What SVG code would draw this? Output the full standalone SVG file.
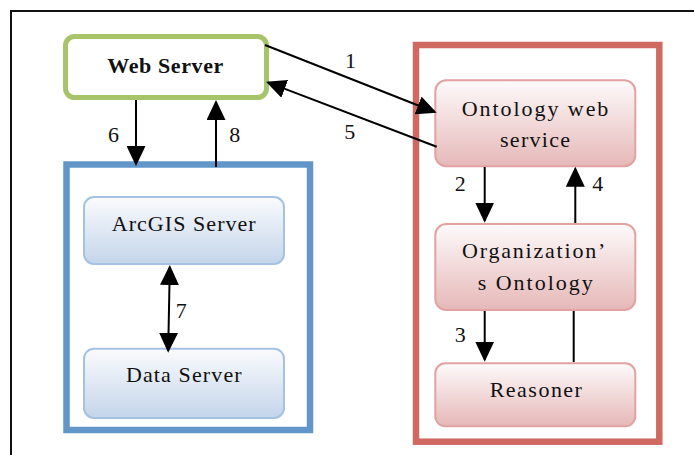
<svg xmlns="http://www.w3.org/2000/svg" width="694" height="455" viewBox="0 0 694 455">
  <defs>
    <linearGradient id="gBlue" x1="0" y1="0" x2="0" y2="1">
      <stop offset="0" stop-color="#FAFBFD"/>
      <stop offset="1" stop-color="#C4D5EA"/>
    </linearGradient>
    <linearGradient id="gPink" x1="0" y1="0" x2="0" y2="1">
      <stop offset="0" stop-color="#FDFAFA"/>
      <stop offset="1" stop-color="#E6B8B8"/>
    </linearGradient>
    <marker id="arrow" viewBox="0 0 20 19" markerWidth="20" markerHeight="19" refX="18" refY="9.5" orient="auto-start-reverse" markerUnits="userSpaceOnUse">
      <path d="M0,0 L20,9.5 L0,19 z" fill="#000"/>
    </marker>
  </defs>
  <style>
    .blue { fill: url(#gBlue); stroke: #A6C2E2; stroke-width: 2; }
    .pink { fill: url(#gPink); stroke: #E2A2A2; stroke-width: 2; }
    .conn { stroke: #000; stroke-width: 2; fill: none; }
  </style>

  <rect width="694" height="455" fill="#fff"/>
  <!-- page frame -->
  <path d="M11,455 V11 H694" fill="none" stroke="#111" stroke-width="2"/>

  <!-- containers -->
  <g id="gis-container">
    <rect x="66.5" y="164.5" width="243.5" height="265.5" fill="none" stroke="#6396C8" stroke-width="6.5"/>
  </g>
  <g id="ontology-container">
    <rect x="416" y="45" width="243.3" height="396.7" fill="none" stroke="#CF6961" stroke-width="6.5"/>
  </g>

  <!-- nodes -->
  <g id="web-server">
    <rect x="65.5" y="36.5" width="201" height="61" rx="9" fill="#fff" stroke="#A8C46A" stroke-width="5"/>
    <text x="165.3" y="73.3" font-family="Liberation Serif" font-size="22" fill="#111" text-anchor="middle" font-weight="bold" textLength="116" lengthAdjust="spacing">Web Server</text>
  </g>
  <g id="arcgis-server">
    <rect x="84" y="197" width="200" height="67" rx="10" class="blue"/>
    <text x="183.7" y="231" font-family="Liberation Serif" font-size="22" fill="#111" text-anchor="middle" textLength="144" lengthAdjust="spacing">ArcGIS Server</text>
  </g>
  <g id="data-server">
    <rect x="84" y="348.7" width="200" height="69.3" rx="10" class="blue"/>
    <text x="183.8" y="382" font-family="Liberation Serif" font-size="22" fill="#111" text-anchor="middle" textLength="115.7" lengthAdjust="spacing">Data Server</text>
  </g>
  <g id="ontology-web-service">
    <rect x="435.3" y="80.3" width="200" height="86" rx="11" class="pink"/>
    <text x="535" y="115.7" font-family="Liberation Serif" font-size="22" fill="#111" text-anchor="middle" textLength="146.7" lengthAdjust="spacing">Ontology web</text>
    <text x="535" y="146.7" font-family="Liberation Serif" font-size="22" fill="#111" text-anchor="middle" textLength="70" lengthAdjust="spacing">service</text>
  </g>
  <g id="organization-ontology">
    <rect x="435.3" y="224" width="200" height="86" rx="11" class="pink"/>
    <text x="533.7" y="258.3" font-family="Liberation Serif" font-size="22" fill="#111" text-anchor="middle" textLength="143.3" lengthAdjust="spacing">Organization’</text>
    <text x="535.2" y="290" font-family="Liberation Serif" font-size="22" fill="#111" text-anchor="middle" textLength="115" lengthAdjust="spacing">s Ontology</text>
  </g>
  <g id="reasoner">
    <rect x="435.3" y="363.3" width="200" height="63" rx="10" class="pink"/>
    <text x="535.8" y="396.7" font-family="Liberation Serif" font-size="22" fill="#111" text-anchor="middle" textLength="92.3" lengthAdjust="spacing">Reasoner</text>
  </g>

  <!-- connectors -->
  <g id="connectors">
    <line class="conn" x1="265" y1="45" x2="434.8" y2="112" marker-end="url(#arrow)"/>
    <line class="conn" x1="436.7" y1="146.7" x2="267.9" y2="82.4" marker-end="url(#arrow)"/>
    <line class="conn" x1="136" y1="100" x2="136" y2="164" marker-end="url(#arrow)"/>
    <line class="conn" x1="216" y1="167" x2="216" y2="102" marker-end="url(#arrow)"/>
    <line class="conn" x1="169.8" y1="267" x2="168.2" y2="350.7" marker-start="url(#arrow)" marker-end="url(#arrow)"/>
    <line class="conn" x1="484.7" y1="167" x2="484.7" y2="220.7" marker-end="url(#arrow)"/>
    <line class="conn" x1="575.3" y1="223" x2="575.3" y2="168.7" marker-end="url(#arrow)"/>
    <line class="conn" x1="484.7" y1="311" x2="484.7" y2="359.7" marker-end="url(#arrow)"/>
    <line class="conn" x1="573.7" y1="311" x2="573.7" y2="362"/>

    <g font-family="Liberation Serif" font-size="22" fill="#111" text-anchor="middle">
      <text x="350.5" y="68.3">1</text>
      <text x="349.7" y="139.3">5</text>
      <text x="113.5" y="141.7">6</text>
      <text x="234.7" y="141.7">8</text>
      <text x="181.2" y="318.3">7</text>
      <text x="460.2" y="190.7">2</text>
      <text x="597.8" y="190.7">4</text>
      <text x="460.2" y="342.3">3</text>
    </g>
  </g>
</svg>
